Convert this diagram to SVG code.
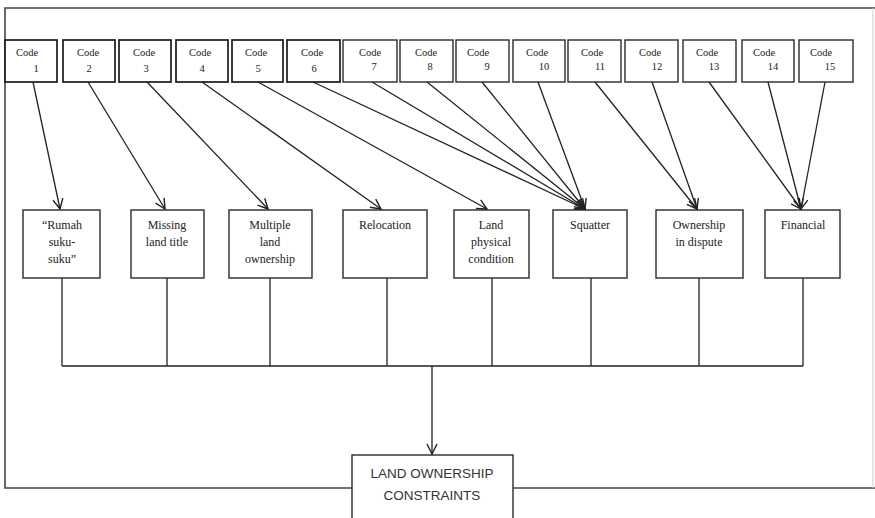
<svg xmlns="http://www.w3.org/2000/svg" width="875" height="518" viewBox="0 0 875 518">
<defs>
<style>
.bx{fill:#fff;stroke:#2a2a2a;stroke-width:1.4}
.bxd{fill:#fff;stroke:#1a1a1a;stroke-width:1.7}
.ln{fill:none;stroke:#222;stroke-width:1.3}
.fr{fill:none;stroke:#444;stroke-width:1.6}
.cd{font-family:"Liberation Serif","Times New Roman",serif;font-size:10.5px;fill:#222;text-anchor:middle}
.lb{font-family:"Liberation Serif","Times New Roman",serif;font-size:12px;fill:#222;text-anchor:middle}
.bt{font-family:"Liberation Sans",Arial,sans-serif;font-size:13.5px;fill:#333;text-anchor:middle}
</style>
<marker id="ah" viewBox="0 0 12 12" refX="11" refY="6" markerWidth="12" markerHeight="12" markerUnits="userSpaceOnUse" orient="auto">
<path d="M1,1 L11,6 L1,11" fill="none" stroke="#222" stroke-width="1.4"/>
</marker>
</defs>
<rect width="875" height="518" fill="#fff"/>
<g id="frame">
<path class="fr" d="M352,488 H5 V8 H875"/>
<path class="fr" d="M513,488 H875"/>
<path d="M873,8 V488" fill="none" stroke="#ccc" stroke-width="1"/>
</g>
<g id="code1"><rect class="bxd" x="5" y="40" width="52" height="42"/><text class="cd" x="27" y="56">Code</text><text class="cd" x="36" y="72">1</text></g>
<g id="code2"><rect class="bxd" x="63" y="40" width="52" height="42"/><text class="cd" x="88" y="56">Code</text><text class="cd" x="89" y="72">2</text></g>
<g id="code3"><rect class="bxd" x="119" y="40" width="52" height="42"/><text class="cd" x="144" y="56">Code</text><text class="cd" x="146" y="72">3</text></g>
<g id="code4"><rect class="bxd" x="176" y="40" width="52" height="42"/><text class="cd" x="200" y="56">Code</text><text class="cd" x="202" y="72">4</text></g>
<g id="code5"><rect class="bxd" x="232" y="40" width="51" height="42"/><text class="cd" x="256" y="56">Code</text><text class="cd" x="258" y="72">5</text></g>
<g id="code6"><rect class="bxd" x="287" y="40" width="53" height="42"/><text class="cd" x="312" y="56">Code</text><text class="cd" x="314" y="72">6</text></g>
<g id="code7"><rect class="bx" x="343" y="40" width="54" height="42"/><text class="cd" x="370" y="56">Code</text><text class="cd" x="374" y="70">7</text></g>
<g id="code8"><rect class="bx" x="400" y="40" width="53" height="42"/><text class="cd" x="426" y="56">Code</text><text class="cd" x="430" y="70">8</text></g>
<g id="code9"><rect class="bx" x="456" y="40" width="53" height="42"/><text class="cd" x="478" y="56">Code</text><text class="cd" x="487" y="70">9</text></g>
<g id="code10"><rect class="bx" x="513" y="40" width="52" height="42"/><text class="cd" x="537" y="56">Code</text><text class="cd" x="544" y="70">10</text></g>
<g id="code11"><rect class="bx" x="568" y="40" width="53" height="42"/><text class="cd" x="592" y="56">Code</text><text class="cd" x="600" y="70">11</text></g>
<g id="code12"><rect class="bx" x="625" y="40" width="53" height="42"/><text class="cd" x="650" y="56">Code</text><text class="cd" x="657" y="70">12</text></g>
<g id="code13"><rect class="bx" x="683" y="40" width="53" height="42"/><text class="cd" x="707" y="56">Code</text><text class="cd" x="714" y="70">13</text></g>
<g id="code14"><rect class="bx" x="742" y="40" width="52" height="42"/><text class="cd" x="764" y="56">Code</text><text class="cd" x="773" y="70">14</text></g>
<g id="code15"><rect class="bx" x="799" y="40" width="54" height="42"/><text class="cd" x="821" y="56">Code</text><text class="cd" x="830" y="70">15</text></g>

<g id="rumah"><rect class="bx" x="23" y="210" width="77" height="68"/><text class="lb" x="62" y="229">“Rumah</text><text class="lb" x="62" y="246">suku-</text><text class="lb" x="62" y="263">suku”</text></g>
<g id="missing"><rect class="bx" x="131" y="210" width="73" height="68"/><text class="lb" x="167" y="229">Missing</text><text class="lb" x="167" y="246">land title</text></g>
<g id="multiple"><rect class="bx" x="229" y="210" width="83" height="68"/><text class="lb" x="270" y="229">Multiple</text><text class="lb" x="270" y="246">land</text><text class="lb" x="270" y="263">ownership</text></g>
<g id="relocation"><rect class="bx" x="343" y="210" width="84" height="68"/><text class="lb" x="385" y="229">Relocation</text></g>
<g id="landphys"><rect class="bx" x="454" y="210" width="75" height="68"/><text class="lb" x="491" y="229">Land</text><text class="lb" x="491" y="246">physical</text><text class="lb" x="491" y="263">condition</text></g>
<g id="squatter"><rect class="bx" x="553" y="210" width="74" height="68"/><text class="lb" x="590" y="229">Squatter</text></g>
<g id="ownership"><rect class="bx" x="656" y="210" width="87" height="68"/><text class="lb" x="699" y="229">Ownership</text><text class="lb" x="699" y="246">in dispute</text></g>
<g id="financial"><rect class="bx" x="765" y="210" width="75" height="68"/><text class="lb" x="803" y="229">Financial</text></g>

<g id="result"><rect class="bx" x="352" y="455" width="161" height="80"/><text class="bt" x="432" y="478">LAND OWNERSHIP</text><text class="bt" x="432" y="500">CONSTRAINTS</text></g>

<g id="connectors">
<line class="ln" x1="33" y1="82" x2="60" y2="209" marker-end="url(#ah)"/>
<line class="ln" x1="88" y1="82" x2="165" y2="209" marker-end="url(#ah)"/>
<line class="ln" x1="147" y1="82" x2="268" y2="209" marker-end="url(#ah)"/>
<line class="ln" x1="202" y1="82" x2="381" y2="209" marker-end="url(#ah)"/>
<line class="ln" x1="258" y1="82" x2="487" y2="209" marker-end="url(#ah)"/>
<line class="ln" x1="313" y1="82" x2="585" y2="209" marker-end="url(#ah)"/>
<line class="ln" x1="372" y1="82" x2="585" y2="209" marker-end="url(#ah)"/>
<line class="ln" x1="427" y1="82" x2="585" y2="209" marker-end="url(#ah)"/>
<line class="ln" x1="482" y1="82" x2="585" y2="209" marker-end="url(#ah)"/>
<line class="ln" x1="538" y1="82" x2="585" y2="209" marker-end="url(#ah)"/>
<line class="ln" x1="595" y1="82" x2="697" y2="209" marker-end="url(#ah)"/>
<line class="ln" x1="652" y1="82" x2="697" y2="209" marker-end="url(#ah)"/>
<line class="ln" x1="709" y1="82" x2="801" y2="209" marker-end="url(#ah)"/>
<line class="ln" x1="768" y1="82" x2="801" y2="209" marker-end="url(#ah)"/>
<line class="ln" x1="825" y1="82" x2="801" y2="209" marker-end="url(#ah)"/>
<path class="ln" d="M62,278 V366 M167,278 V366 M270,278 V366 M387,278 V366 M492,278 V366 M591,278 V366 M699,278 V366 M803,278 V366 M62,366 H803"/>
<line class="ln" x1="432" y1="366" x2="432" y2="454" marker-end="url(#ah)"/>
</g>
</svg>
